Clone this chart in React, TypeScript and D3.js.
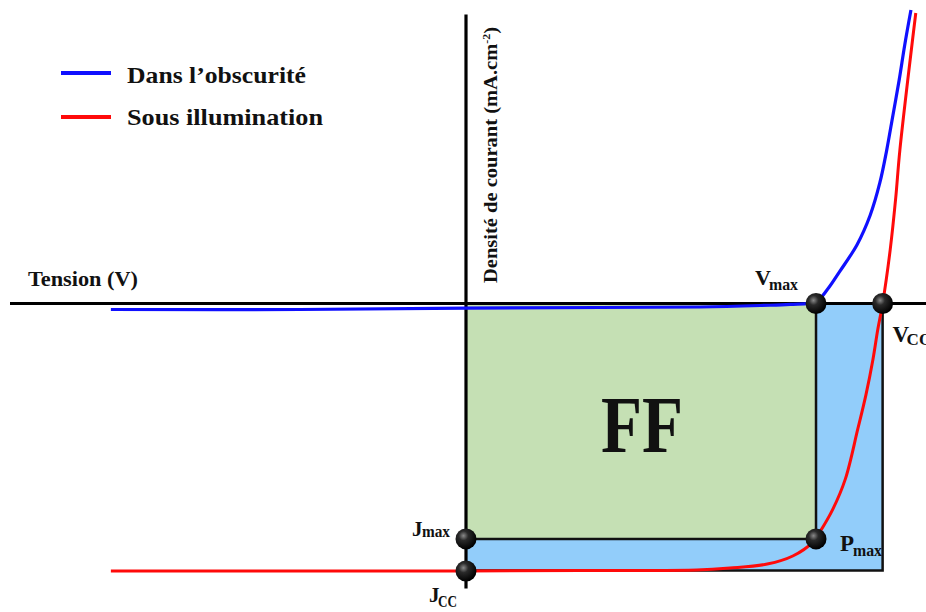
import React from 'react';
import * as d3 from 'd3';

// Dark current curve (V in volts, J in mA.cm-2)
const darkV = [-0.514, -0.24, 0, 0.194, 0.339, 0.426, 0.469, 0.507, 0.523, 0.541, 0.566, 0.585, 0.599, 0.609, 0.618, 0.627, 0.635, 0.644];
const darkJ = [-0.45, -0.45, -0.35, -0.3, -0.26, -0.15, -0.07, 0.15, 1.04, 2.4, 4.4, 6.6, 9.03, 11.49, 14.1, 16.72, 19.33, 21.94];

// Illuminated curve
const lightV = [-0.514, 0, 0.194, 0.334, 0.382, 0.436, 0.473, 0.502, 0.512, 0.531, 0.549, 0.567, 0.579, 0.589, 0.596, 0.603, 0.614, 0.622, 0.628, 0.651];
const lightJ = [-20, -20, -19.96, -19.93, -19.78, -19.48, -18.88, -17.84, -17.09, -15.37, -13.13, -9.4, -6.79, -4.18, -1.94, 0, 4.03, 7.91, 11.49, 21.72];

// Characteristic values
const Vmax = 0.5066;
const Vco = 0.603;
const Jmax = -17.6;
const Jcc = -20;

const legendLabels = ['Dans l\u2019obscurité', 'Sous illumination'];
const legendColors = ['#1010ff', '#ff0a0a'];

const serif = "'Liberation Serif', 'Times New Roman', serif";

export default function App() {
  const x = d3.scaleLinear().domain([0, 0.66]).range([466, 922]);
  const y = d3.scaleLinear().domain([-20, 0]).range([571, 303.5]);

  const line = d3
    .line<[number, number]>()
    .x((d) => x(d[0]))
    .y((d) => y(d[1]))
    .curve(d3.curveCatmullRom.alpha(0.5));

  const dark: [number, number][] = darkV.map((v, i) => [v, darkJ[i]]);
  const light: [number, number][] = lightV.map((v, i) => [v, lightJ[i]]);

  const x0 = x(0);
  const y0 = y(0);
  const dots: [number, number][] = [
    [Vmax, 0],
    [Vco, 0],
    [Vmax, Jmax],
    [0, Jmax],
    [0, Jcc],
  ];

  const txt = { fontFamily: serif, fontWeight: 700, fill: '#111' } as const;

  return (
    <svg
      width={926}
      height={612}
      style={{ position: 'absolute', left: 0, top: 0, background: '#fff' }}
    >
      <defs>
        <radialGradient id="ball" cx="38%" cy="35%" r="65%">
          <stop offset="0%" stopColor="#8a8a8a" />
          <stop offset="35%" stopColor="#2a2a2a" />
          <stop offset="100%" stopColor="#000" />
        </radialGradient>
        <clipPath id="pclip">
          <rect x={0} y={0} width={x(Vco)} height={612} />
        </clipPath>
      </defs>

      {/* Blue (Jcc x Vco) rectangle */}
      <rect
        x={x0}
        y={y0}
        width={x(Vco) - x0}
        height={y(Jcc) - y0}
        fill="#92cdfa"
      />
      {/* Green FF rectangle */}
      <rect
        x={x0}
        y={y0}
        width={x(Vmax) - x0}
        height={y(Jmax) - y0}
        fill="#c5e0b4"
      />
      {/* Borders */}
      <path
        d={`M${x(Vmax)},${y0}V${y(Jmax)}H${x0}`}
        fill="none"
        stroke="#111"
        strokeWidth={2.5}
      />
      <path
        d={`M${x(Vco)},${y0}V${y(Jcc) - 0.5}H${x0}`}
        fill="none"
        stroke="#111"
        strokeWidth={2.5}
      />

      {/* Axes */}
      <line x1={x(-0.66)} x2={x(0.67)} y1={y0} y2={y0} stroke="#000" strokeWidth={3.2} />
      <line x1={x0} x2={x0} y1={y(21.6)} y2={y(-21.3)} stroke="#000" strokeWidth={3.2} />

      {/* Curves */}
      <path d={line(dark) || ''} fill="none" stroke={legendColors[0]} strokeWidth={3.2} />
      <path d={line(light) || ''} fill="none" stroke={legendColors[1]} strokeWidth={3} />

      {/* Dots */}
      {dots.map((d, i) => (
        <circle key={i} cx={x(d[0])} cy={y(d[1])} r={10.5} fill="url(#ball)" />
      ))}

      {/* Legend */}
      {legendLabels.map((lab, i) => (
        <g key={lab}>
          <line
            x1={61}
            x2={111}
            y1={73 + i * 44}
            y2={73 + i * 44}
            stroke={legendColors[i]}
            strokeWidth={4}
          />
          <text
            x={127}
            y={83 + i * 42}
            fontSize={24}
            textLength={i === 0 ? 179 : 196}
            lengthAdjust="spacingAndGlyphs"
            {...txt}
          >
            {lab}
          </text>
        </g>
      ))}

      {/* Axis titles */}
      <text x={28} y={286} fontSize={20} textLength={110} lengthAdjust="spacingAndGlyphs" {...txt}>
        Tension (V)
      </text>
      <text
        transform={`translate(${x0 + 31},283) rotate(-90)`}
        fontSize={19}
        textLength={256}
        lengthAdjust="spacingAndGlyphs"
        {...txt}
      >
        Densité de courant (mA.cm
        <tspan fontSize={11} dy={-7}>-2</tspan>
        <tspan dy={7}>)</tspan>
      </text>

      {/* FF */}
      <text x={601} y={452} fontSize={80} textLength={82} lengthAdjust="spacingAndGlyphs" {...txt}>
        FF
      </text>

      {/* Point labels */}
      <text x={x(Vmax) - 61} y={y0 - 18.5} fontSize={22} {...txt}>V</text>
      <text x={x(Vmax) - 47} y={y0 - 13.5} fontSize={16} textLength={29} lengthAdjust="spacingAndGlyphs" {...txt}>max</text>

      <text x={x(Vco) + 10} y={y0 + 38} fontSize={23} {...txt}>V</text>
      <text x={x(Vco) + 24} y={y0 + 41.5} fontSize={17} {...txt}>CO</text>

      <text x={x0 - 54} y={y(Jmax) - 2.5} fontSize={21} {...txt}>J</text>
      <text x={x0 - 44} y={y(Jmax) - 2} fontSize={16} textLength={28} lengthAdjust="spacingAndGlyphs" {...txt}>max</text>

      <text x={x0 - 37} y={y(Jcc) + 30.5} fontSize={21} {...txt}>J</text>
      <text x={x0 - 28} y={y(Jcc) + 35.5} fontSize={16} textLength={19} lengthAdjust="spacingAndGlyphs" {...txt}>CC</text>

      <text x={x(Vmax) + 24} y={y(Jmax) + 12.5} fontSize={23} {...txt}>P</text>
      <g clipPath="url(#pclip)">
        <text x={x(Vmax) + 37} y={y(Jmax) + 17} fontSize={16} textLength={29} lengthAdjust="spacingAndGlyphs" {...txt}>max</text>
      </g>
    </svg>
  );
}
